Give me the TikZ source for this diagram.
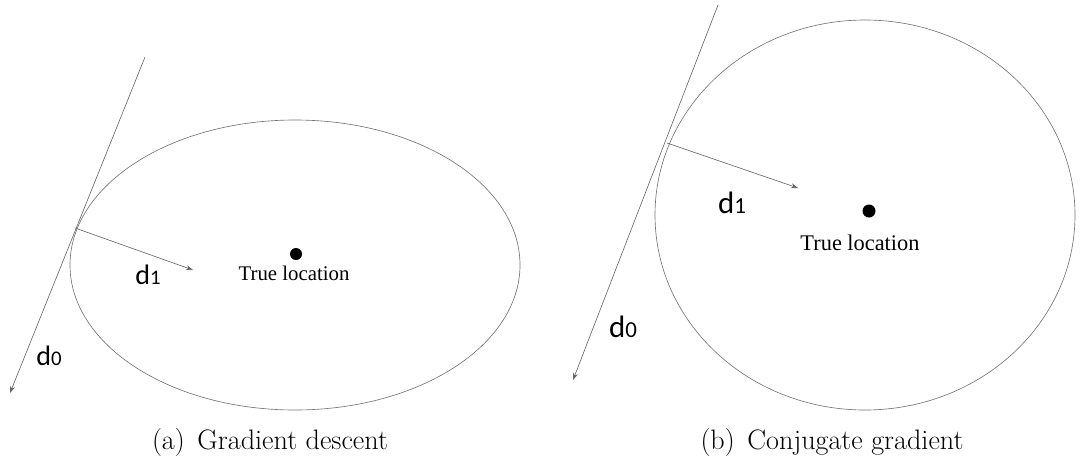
\documentclass[tikz,border=0pt]{standalone}
\usepackage{fontspec}
\usetikzlibrary{arrows.meta}
\newfontfamily\dfont{Carlito}
\newfontfamily\tfont{Liberation Serif}
\tikzset{
  curve/.style={draw=black!55,line width=.45pt},
  dir/.style={draw=black!60,line width=.45pt,-{Stealth[length=5pt,width=3.5pt]}},
  dlab/.style={font=\dfont\fontsize{20}{21}\selectfont},
  dlabb/.style={font=\dfont\fontsize{22}{23}\selectfont},
  tlab/.style={font=\tfont\fontsize{14.8}{16}\selectfont},
  tlabb/.style={font=\tfont\fontsize{15.9}{17}\selectfont},
  caption/.style={font=\fontsize{20}{22}\selectfont}
}
\newcommand{\dsub}[1]{d\raisebox{-.3pt}{\fontsize{.74em}{1em}\selectfont#1}}
\begin{document}
\begin{tikzpicture}[x=0.025cm,y=-0.025cm,line join=round,line cap=round]
\useasboundingbox (0,0) rectangle (1083,461);
% (a) gradient descent
\path (295,265) coordinate (Oa)
      (145,57) coordinate (Ta)
      (10,393) coordinate (Ea)
      (75,228) coordinate (Pa)
      (193,270) coordinate (Qa)
      (296,254) coordinate (Ca);
\draw[curve] (Oa) ellipse[x radius=225,y radius=145];
\draw[dir] (Ta)--(Ea);
\draw[dir] (Pa)--(Qa);
\fill (Ca) circle(6);
\node[tlab] (ta) at (294,273) {True location};
\node[dlab] (d0a) at (49,356) {\dsub{0}};
\node[dlab] (d1a) at (148,275) {\dsub{1}};
\node[caption] (capa) at (270,442) {(a)\hspace{.45em}Gradient descent};
% (b) conjugate gradient
\path (865,215) coordinate (Ob)
      (718,5) coordinate (Tb)
      (573,380) coordinate (Eb)
      (667,143) coordinate (Pb)
      (798,188) coordinate (Qb)
      (869,211) coordinate (Cb);
\draw[curve] (Ob) ellipse[x radius=210,y radius=195];
\draw[dir] (Tb)--(Eb);
\draw[dir] (Pb)--(Qb);
\fill (Cb) circle(6.5);
\node[tlab, tlabb] (tb) at (860,243) {True location};
\node[dlabb] (d0b) at (623,327) {\dsub{0}};
\node[dlabb] (d1b) at (732,203) {\dsub{1}};
\node[caption] (capb) at (832,442) {(b)\hspace{.45em}Conjugate gradient};
\end{tikzpicture}
\end{document}
